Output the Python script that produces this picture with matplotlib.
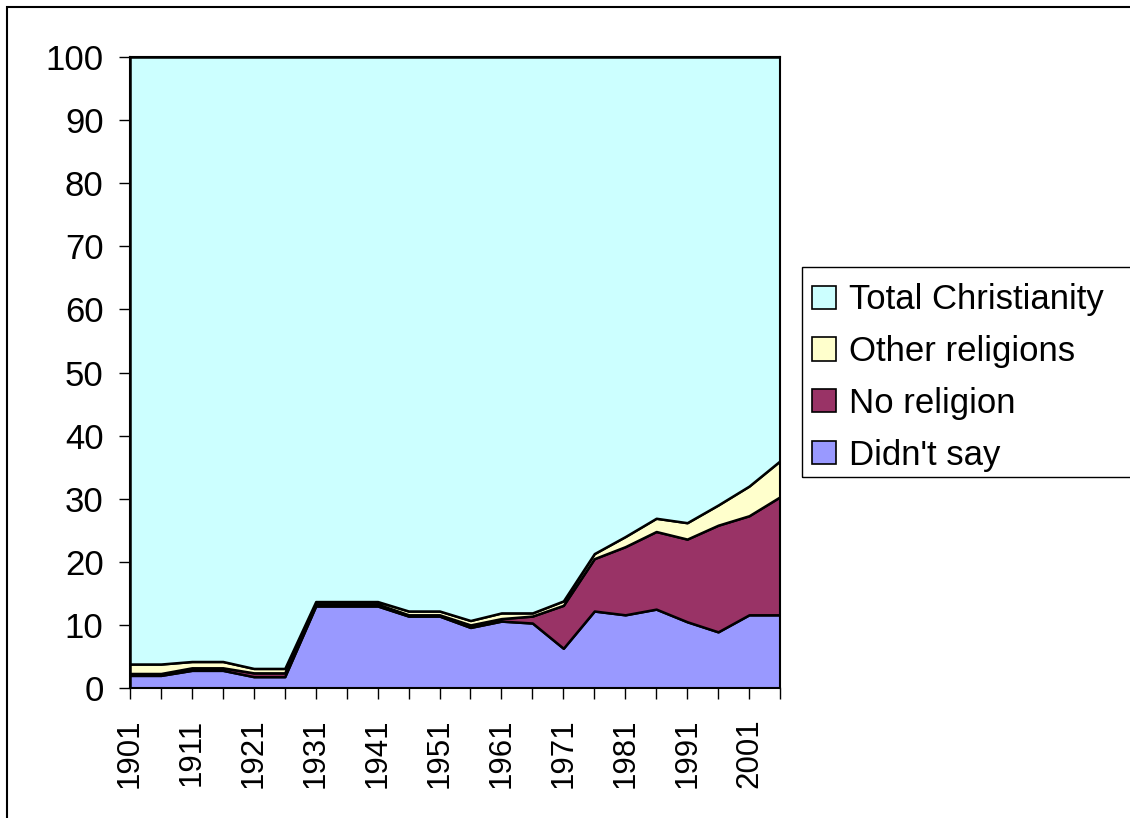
import matplotlib
matplotlib.use("Agg")
import matplotlib.pyplot as plt
from matplotlib.patches import Rectangle

plt.rcParams['font.family'] = ['Liberation Sans', 'DejaVu Sans']

# census years (every 5 years)
years = ['1901', '1906', '1911', '1916', '1921', '1926', '1931', '1936', '1941', '1946', '1951',
         '1956', '1961', '1966', '1971', '1976', '1981', '1986', '1991', '1996', '2001', '2006']

# percentages (stacked, bottom to top)
didnt_say = [2.0, 2.0, 2.8, 2.8, 1.8, 1.8, 13.0, 13.0, 13.0, 11.4, 11.4,
             9.6, 10.6, 10.3, 6.3, 12.2, 11.6, 12.5, 10.5, 8.9, 11.6, 11.6]
no_religion = [0.3, 0.3, 0.4, 0.4, 0.6, 0.6, 0.3, 0.3, 0.3, 0.2, 0.2,
               0.4, 0.4, 1.1, 6.8, 8.3, 10.8, 12.3, 13.1, 16.9, 15.7, 18.7]
other_religions = [1.5, 1.5, 1.0, 1.0, 0.7, 0.7, 0.4, 0.4, 0.4, 0.6, 0.6,
                   0.7, 0.9, 0.5, 0.7, 0.8, 1.6, 2.1, 2.6, 3.2, 4.7, 5.7]
christianity = [96.2, 96.2, 95.8, 95.8, 96.9, 96.9, 86.3, 86.3, 86.3, 87.8, 87.8,
                89.3, 88.1, 88.1, 86.2, 78.7, 76.0, 73.1, 73.8, 71.0, 68.0, 64.0]

labels = ["Didn't say", "No religion", "Other religions", "Total Christianity"]
colors = ['#9999FF', '#993366', '#FFFFCC', '#CCFFFF']

fig = plt.figure(figsize=(11.3, 8.18), dpi=100)
ax = fig.add_axes([130/1130, 1-688/818, 650/1130, 631/818])

x = list(range(len(years)))
polys = ax.stackplot(x, didnt_say, no_religion, other_religions, christianity,
                     colors=colors, edgecolor='black', linewidth=1.8, labels=labels)

ax.set_xlim(0, len(years) - 1)
ax.set_ylim(0, 100)
ax.set_yticks(range(0, 101, 10))
ax.tick_params(axis='y', labelsize=25, length=8, width=1, pad=11, direction='out')
ax.set_xticks(x)
ax.set_xticklabels([y if i % 2 == 0 else '' for i, y in enumerate(years)], rotation=90)
ax.tick_params(axis='x', labelsize=22.5, length=8, width=1, pad=14, direction='out')
for s in ax.spines.values():
    s.set_linewidth(1.5)
    s.set_color('black')

# legend (top series first), frame drawn separately so it runs off the right edge
h, l = ax.get_legend_handles_labels()
leg = fig.legend(h[::-1], l[::-1], loc='upper left', bbox_to_anchor=(802/1130, 1-273/818),
                 fontsize=25, frameon=False,
                 handlelength=0.69, handleheight=0.66, handletextpad=0.35,
                 labelspacing=0.54, borderpad=0.3, borderaxespad=0)
for p in leg.get_patches():
    p.set_linewidth(1.2)
fig.add_artist(Rectangle((802/1130, 1-477/818), 1, 210/818, transform=fig.transFigure,
                         fill=False, edgecolor='black', linewidth=1.0))

# outer chart border
fig.add_artist(Rectangle((7/1130, -0.05), 2, 1 - 7/818 + 0.05, transform=fig.transFigure,
                         fill=False, edgecolor='black', linewidth=1.5))

fig.savefig('out.png', dpi=100)
